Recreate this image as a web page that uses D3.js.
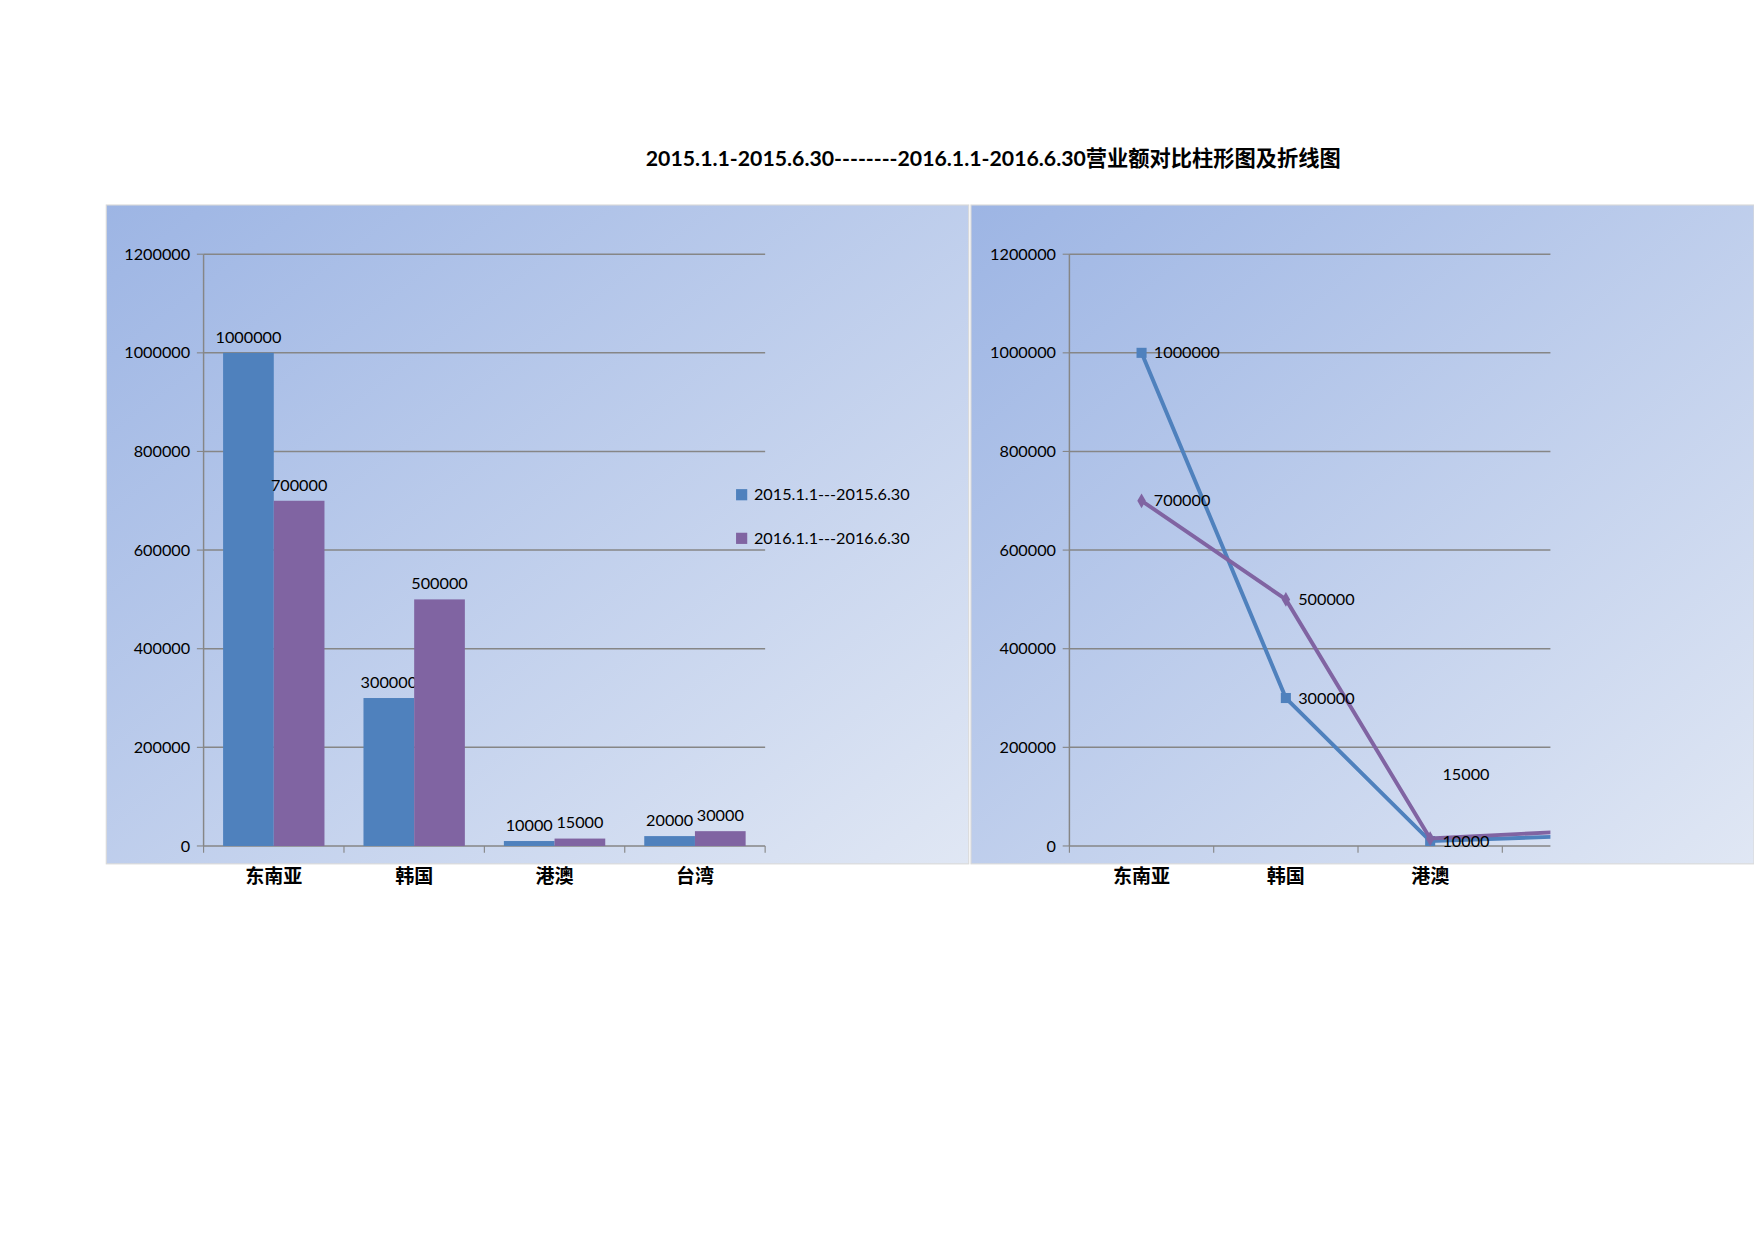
<!DOCTYPE html><html><head><meta charset="utf-8"><script src="https://cdn.jsdelivr.net/npm/d3@7"></script>
<style>body{margin:0;background:#fff}</style></head><body><script>
const categories=["东南亚","韩国","港澳","台湾"];
const series2015=[1000000,300000,10000,20000];
const series2016=[700000,500000,15000,30000];
const seriesNames=["2015.1.1---2015.6.30","2016.1.1---2016.6.30"];
const yTicks=[0,200000,400000,600000,800000,1000000,1200000];
const colors=["#4f81bd","#8064a2"];
const svg=d3.select("body").append("svg").attr("width",1754).attr("height",1240).attr("viewBox","0 0 1568 1108");
const defs=svg.append("defs");
const gr=defs.append("linearGradient").attr("id","bg").attr("x1","0").attr("y1","0").attr("x2","1").attr("y2","1");
gr.append("stop").attr("offset","0").attr("stop-color","#9db5e4");
gr.append("stop").attr("offset","1").attr("stop-color","#e0e7f4");
const F="Lato, 'Noto Sans CJK SC', sans-serif";
svg.append("text").attr("x",888).attr("y",148).attr("text-anchor","middle").attr("font-family",F).attr("font-weight","bold").attr("font-size",19).text("2015.1.1-2015.6.30--------2016.1.1-2016.6.30营业额对比柱形图及折线图");
function panel(x0,x1,px0,px1,band){
  svg.append("rect").attr("x",x0).attr("y",183).attr("width",x1-x0).attr("height",589).attr("fill","url(#bg)").attr("stroke","#d9d9d9");
  const y=d3.scaleLinear().domain([0,1200000]).range([756,227]);
  const x=d3.scaleBand().domain(categories).range([px0,px0+band*4]);
  const g=svg.append("g");
  yTicks.forEach(t=>{g.append("line").attr("x1",px0).attr("x2",px1).attr("y1",y(t)).attr("y2",y(t)).attr("stroke","#868686").attr("stroke-width",1.3);
    g.append("text").attr("x",px0-12).attr("y",y(t)+5).attr("text-anchor","end").attr("font-family",F).attr("font-size",14.5).text(t);
    g.append("line").attr("x1",px0-6).attr("x2",px0).attr("y1",y(t)).attr("y2",y(t)).attr("stroke","#868686");});
  g.append("line").attr("x1",px0).attr("x2",px0).attr("y1",227).attr("y2",756).attr("stroke","#868686").attr("stroke-width",1.3);
  for(let i=0;i<=4;i++){const tx=px0+band*i; if(tx<=px1+1) g.append("line").attr("x1",tx).attr("x2",tx).attr("y1",756).attr("y2",762).attr("stroke","#868686");}
  categories.forEach(c=>{const cx=x(c)+band/2; if(cx<px1) svg.append("text").attr("x",cx).attr("y",789).attr("text-anchor","middle").attr("font-family",F).attr("font-weight","bold").attr("font-size",17).text(c);});
  return {x,y};
}
// left bar chart
const L=panel(95,866,182,684,125.5);
const xs=d3.scaleBand().domain([0,1]).range([0,L.x.bandwidth()]).paddingOuter(0.12/0.76*0.76).paddingInner(0);
xs.range([12,L.x.bandwidth()-12]);
[series2015,series2016].forEach((s,si)=>{
  s.forEach((v,i)=>{const bx=L.x(categories[i])+xs(si);
    svg.append("rect").attr("x",bx).attr("y",L.y(v)).attr("width",xs.bandwidth()).attr("height",756-L.y(v)).attr("fill",colors[si]);
    svg.append("text").attr("x",bx+xs.bandwidth()/2).attr("y",L.y(v)-9).attr("text-anchor","middle").attr("font-family",F).attr("font-size",14.5).text(v);});
});
seriesNames.forEach((n,i)=>{svg.append("rect").attr("x",658).attr("y",437+i*39).attr("width",10).attr("height",10).attr("fill",colors[i]);
  svg.append("text").attr("x",674).attr("y",447+i*39).attr("font-family",F).attr("font-size",14.5).text(n);});
// right line chart
const R=panel(868,1568,956,1386,129);
const clip=defs.append("clipPath").attr("id","cp");clip.append("rect").attr("x",868).attr("y",183).attr("width",518).attr("height",589);
const lg=svg.append("g").attr("clip-path","url(#cp)");
const line=d3.line().x((d,i)=>R.x(categories[i])+64.5).y(d=>R.y(d));
[series2015,series2016].forEach((s,si)=>{
  lg.append("path").attr("d",line(s)).attr("fill","none").attr("stroke",colors[si]).attr("stroke-width",3.5);
  s.forEach((v,i)=>{const cx=R.x(categories[i])+64.5;
    if(si==0) lg.append("rect").attr("x",cx-4.5).attr("y",R.y(v)-4.5).attr("width",9).attr("height",9).attr("fill",colors[0]);
    else lg.append("path").attr("d",d3.symbol(d3.symbolDiamond,50)()).attr("transform",`translate(${cx},${R.y(v)})`).attr("fill",colors[1]);
  });
});
const lbl=[[series2015[0],0,0],[series2015[1],1,0],[series2015[2],2,0],[series2016[0],0,0],[series2016[1],1,0],[series2016[2],2,-57]];
lbl.forEach(([v,i,dy])=>{lg.append("text").attr("x",R.x(categories[i])+64.5+11).attr("y",R.y(v)+5+dy).attr("font-family",F).attr("font-size",14.5).text(v);});
</script></body></html>
